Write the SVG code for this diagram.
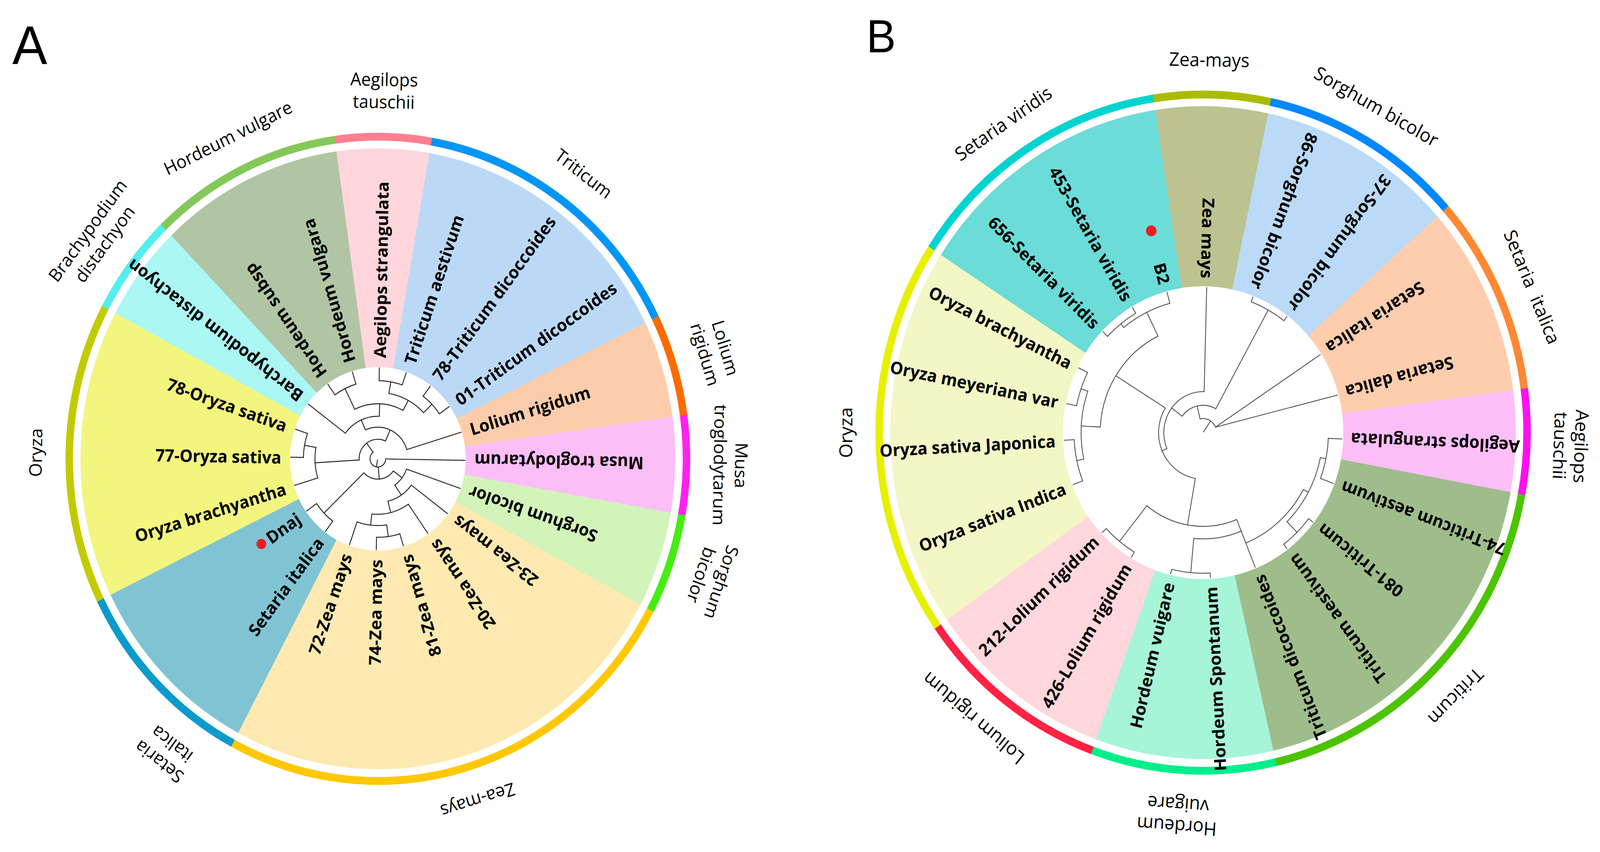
<svg xmlns="http://www.w3.org/2000/svg" width="4277" height="2182" viewBox="0 0 4277 2182" preserveAspectRatio="none">
<style>
svg{width:100vw;height:100vh;display:block}
text{font-family:'Open Sans','Noto Sans','DejaVu Sans',sans-serif;fill:#000}
.lb{font-weight:700;font-size:44px}
.gA{font-size:46px}
.gB{font-size:48px}
.ttl{font-family:'Liberation Sans',Arial,sans-serif}
.w{fill:none}
.t{fill:none;stroke:#262626;stroke-width:2.4;stroke-linecap:round}
.u{fill:none;stroke:#484848;stroke-width:2.1;stroke-linecap:round}
.dot{fill:#ee1c25}
</style>
<rect width="4277" height="2182" fill="#fff"/>
<text class="ttl" x="33" y="164" font-size="140">A</text>
<text class="ttl" x="2316" y="134" font-size="118">B</text>

<g id="panelA" transform="translate(1010,1175)">
 <g id="A-Musa">
  <circle class="w" r="515" stroke-width="560" stroke="#fdbef8" stroke-dasharray="163.6 99999" transform="rotate(-8)"/>
  <circle class="w" r="825" stroke-width="20" stroke="#ff22ee" stroke-dasharray="262.1 99999" transform="rotate(-8)"/>
  <text class="gA" transform="rotate(91)" text-anchor="middle"><tspan x="0" y="-955">Musa</tspan><tspan x="0" y="-898">troglodytarum</tspan></text>
  <text class="lb" transform="rotate(181)" x="-258" text-anchor="end" dominant-baseline="central">Musa troglodytarum</text>
 </g>
 <g id="A-Sorghum">
  <circle class="w" r="515" stroke-width="560" stroke="#d2f4b8" stroke-dasharray="163.6 99999" transform="rotate(10)"/>
  <circle class="w" r="825" stroke-width="20" stroke="#44ee11" stroke-dasharray="262.1 99999" transform="rotate(10)"/>
  <text class="gA" transform="rotate(109)" text-anchor="middle"><tspan x="0" y="-955">Sorghum</tspan><tspan x="0" y="-898">bicolor</tspan></text>
  <text class="lb" transform="rotate(199)" x="-258" text-anchor="end" dominant-baseline="central">Sorghum bicolor</text>
 </g>
 <g id="A-Zea">
  <circle class="w" r="515" stroke-width="560" stroke="#feeab0" stroke-dasharray="810.8 99999" transform="rotate(28)"/>
  <circle class="w" r="825" stroke-width="20" stroke="#ffc800" stroke-dasharray="1298.8 99999" transform="rotate(28)"/>
  <text class="gA" transform="rotate(163)" text-anchor="middle" x="0" y="-898">Zea-mays</text>
  <text class="lb" transform="rotate(217)" x="-258" text-anchor="end" dominant-baseline="central">23-Zea mays</text>
  <text class="lb" transform="rotate(235)" x="-258" text-anchor="end" dominant-baseline="central">20-Zea mays</text>
  <text class="lb" transform="rotate(253)" x="-258" text-anchor="end" dominant-baseline="central">81-Zea mays</text>
  <text class="lb" transform="rotate(271)" x="-258" text-anchor="end" dominant-baseline="central">74-Zea mays</text>
  <text class="lb" transform="rotate(289)" x="-258" text-anchor="end" dominant-baseline="central">72-Zea mays</text>
 </g>
 <g id="A-Setaria">
  <circle class="w" r="515" stroke-width="560" stroke="#80c4d4" stroke-dasharray="325.4 99999" transform="rotate(118)"/>
  <circle class="w" r="825" stroke-width="20" stroke="#0b9acc" stroke-dasharray="521.2 99999" transform="rotate(118)"/>
  <text class="gA" transform="rotate(217)" text-anchor="middle"><tspan x="0" y="-955">Setaria</tspan><tspan x="0" y="-898">italica</tspan></text>
  <text class="lb" transform="rotate(307)" x="-258" text-anchor="end" dominant-baseline="central">Setaria italica</text>
  <text class="lb" transform="rotate(325)" x="-258" text-anchor="end" dominant-baseline="central">Dnaj</text>
  <circle class="dot" cx="-311.3" cy="218" r="13"/>
 </g>
 <g id="A-Oryza">
  <circle class="w" r="515" stroke-width="560" stroke="#f2f67e" stroke-dasharray="487.2 99999" transform="rotate(154)"/>
  <circle class="w" r="825" stroke-width="20" stroke="#c2cb00" stroke-dasharray="780.4 99999" transform="rotate(154)"/>
  <text class="gA" transform="rotate(271)" text-anchor="middle" x="0" y="-898">Oryza</text>
  <text class="lb" transform="rotate(343)" x="-258" text-anchor="end" dominant-baseline="central">Oryza brachyantha</text>
  <text class="lb" transform="rotate(1)" x="-258" text-anchor="end" dominant-baseline="central">77-Oryza sativa</text>
  <text class="lb" transform="rotate(19)" x="-258" text-anchor="end" dominant-baseline="central">78-Oryza sativa</text>
 </g>
 <g id="A-Brachypodium">
  <circle class="w" r="515" stroke-width="560" stroke="#abf7f4" stroke-dasharray="163.6 99999" transform="rotate(208)"/>
  <circle class="w" r="825" stroke-width="20" stroke="#55eeee" stroke-dasharray="262.1 99999" transform="rotate(208)"/>
  <text class="gA" transform="rotate(307)" text-anchor="middle"><tspan x="0" y="-955">Brachypodium</tspan><tspan x="0" y="-898">distachyon</tspan></text>
  <text class="lb" transform="rotate(217)" x="258" dominant-baseline="central">Barchypodium distachyon</text>
 </g>
 <g id="A-Hordeum">
  <circle class="w" r="515" stroke-width="560" stroke="#b1c5a4" stroke-dasharray="325.4 99999" transform="rotate(226)"/>
  <circle class="w" r="825" stroke-width="20" stroke="#84c85a" stroke-dasharray="521.2 99999" transform="rotate(226)"/>
  <text class="gA" transform="rotate(334)" text-anchor="middle" x="0" y="-898">Hordeum vulgare</text>
  <text class="lb" transform="rotate(235)" x="258" dominant-baseline="central">Hordeum subsp</text>
  <text class="lb" transform="rotate(253)" x="258" dominant-baseline="central">Hordeum vulgara</text>
 </g>
 <g id="A-Aegilops">
  <circle class="w" r="515" stroke-width="560" stroke="#ffd6db" stroke-dasharray="163.6 99999" transform="rotate(262)"/>
  <circle class="w" r="825" stroke-width="20" stroke="#ff7f90" stroke-dasharray="262.1 99999" transform="rotate(262)"/>
  <text class="gA" transform="rotate(1)" text-anchor="middle" x="0" y="-955">Aegilops</text>
  <text class="gA" transform="rotate(1)" text-anchor="middle" x="0" y="-898">tauschii</text>
  <text class="lb" transform="rotate(271)" x="258" dominant-baseline="central">Aegilops strangulata</text>
 </g>
 <g id="A-Triticum">
  <circle class="w" r="515" stroke-width="560" stroke="#bbd9f7" stroke-dasharray="487.2 99999" transform="rotate(280)"/>
  <circle class="w" r="825" stroke-width="20" stroke="#0096f5" stroke-dasharray="780.4 99999" transform="rotate(280)"/>
  <text class="gA" transform="rotate(37)" text-anchor="middle" x="0" y="-898">Triticum</text>
  <text class="lb" transform="rotate(289)" x="258" dominant-baseline="central">Triticum aestivum</text>
  <text class="lb" transform="rotate(307)" x="258" dominant-baseline="central">78-Triticum dicoccoides</text>
  <text class="lb" transform="rotate(325)" x="258" dominant-baseline="central">01-Triticum dicoccoides</text>
 </g>
 <g id="A-Lolium">
  <circle class="w" r="515" stroke-width="560" stroke="#fdcdab" stroke-dasharray="163.6 99999" transform="rotate(334)"/>
  <circle class="w" r="825" stroke-width="20" stroke="#ff6a00" stroke-dasharray="262.1 99999" transform="rotate(334)"/>
  <text class="gA" transform="rotate(73)" text-anchor="middle"><tspan x="0" y="-955">Lolium</tspan><tspan x="0" y="-898">rigidum</tspan></text>
  <text class="lb" transform="rotate(343)" x="258" dominant-baseline="central">Lolium rigidum</text>
 </g>
 <g id="A-tree-connectors">
  <line class="t" x1="3" x2="21" transform="rotate(101)"/>
  <circle class="t" r="21" stroke-dasharray="85.03 99999" transform="rotate(1)"/>
  <line class="t" x1="21" x2="233" transform="rotate(1)"/>
  <line class="t" x1="21" x2="52" transform="rotate(86)"/>
  <circle class="t" r="52" stroke-dasharray="89.85 99999" transform="rotate(37)"/>
  <line class="t" x1="52" x2="200" transform="rotate(136)"/>
  <circle class="t" r="200" stroke-dasharray="62.83 99999" transform="rotate(127)"/>
  <line class="t" x1="200" x2="233" transform="rotate(127)"/>
  <line class="t" x1="200" x2="233" transform="rotate(145)"/>
  <line class="t" x1="52" x2="81" transform="rotate(37)"/>
  <circle class="t" r="81" stroke-dasharray="52.31 99999" transform="rotate(19)"/>
  <line class="t" x1="81" x2="233" transform="rotate(19)"/>
  <line class="t" x1="81" x2="112" transform="rotate(56)"/>
  <circle class="t" r="112" stroke-dasharray="76.24 99999" transform="rotate(37)"/>
  <line class="t" x1="112" x2="233" transform="rotate(37)"/>
  <line class="t" x1="112" x2="142" transform="rotate(76)"/>
  <circle class="t" r="142" stroke-dasharray="102.85 99999" transform="rotate(55)"/>
  <line class="t" x1="142" x2="233" transform="rotate(55)"/>
  <line class="t" x1="142" x2="171" transform="rotate(96.5)"/>
  <circle class="t" r="171" stroke-dasharray="80.58 99999" transform="rotate(82)"/>
  <line class="t" x1="171" x2="233" transform="rotate(109)"/>
  <line class="t" x1="171" x2="201" transform="rotate(82)"/>
  <circle class="t" r="201" stroke-dasharray="63.15 99999" transform="rotate(73)"/>
  <line class="t" x1="201" x2="233" transform="rotate(73)"/>
  <line class="t" x1="201" x2="233" transform="rotate(91)"/>
  <line class="t" x1="21" x2="50" transform="rotate(233)"/>
  <circle class="t" r="50" stroke-dasharray="102.54 99999" transform="rotate(176.5)"/>
  <line class="t" x1="50" x2="168" transform="rotate(176.5)"/>
  <circle class="t" r="168" stroke-dasharray="79.17 99999" transform="rotate(163)"/>
  <line class="t" x1="168" x2="233" transform="rotate(163)"/>
  <line class="t" x1="168" x2="199" transform="rotate(190)"/>
  <circle class="t" r="199" stroke-dasharray="62.52 99999" transform="rotate(181)"/>
  <line class="t" x1="199" x2="233" transform="rotate(181)"/>
  <line class="t" x1="199" x2="233" transform="rotate(199)"/>
  <line class="t" x1="50" x2="81" transform="rotate(294)"/>
  <circle class="t" r="81" stroke-dasharray="137.13 99999" transform="rotate(246)"/>
  <line class="t" x1="81" x2="233" transform="rotate(343)"/>
  <line class="t" x1="81" x2="109" transform="rotate(246)"/>
  <circle class="t" r="109" stroke-dasharray="104.63 99999" transform="rotate(217)"/>
  <line class="t" x1="109" x2="233" transform="rotate(217)"/>
  <line class="t" x1="109" x2="141" transform="rotate(272)"/>
  <circle class="t" r="141" stroke-dasharray="134.12 99999" transform="rotate(244)"/>
  <line class="t" x1="141" x2="200" transform="rotate(244)"/>
  <circle class="t" r="200" stroke-dasharray="62.83 99999" transform="rotate(235)"/>
  <line class="t" x1="200" x2="233" transform="rotate(235)"/>
  <line class="t" x1="200" x2="233" transform="rotate(253)"/>
  <line class="t" x1="141" x2="170" transform="rotate(298.5)"/>
  <circle class="t" r="170" stroke-dasharray="106.81 99999" transform="rotate(280)"/>
  <line class="t" x1="170" x2="200" transform="rotate(280)"/>
  <circle class="t" r="200" stroke-dasharray="62.83 99999" transform="rotate(271)"/>
  <line class="t" x1="200" x2="233" transform="rotate(271)"/>
  <line class="t" x1="200" x2="233" transform="rotate(289)"/>
  <line class="t" x1="170" x2="201" transform="rotate(316)"/>
  <circle class="t" r="201" stroke-dasharray="63.15 99999" transform="rotate(307)"/>
  <line class="t" x1="201" x2="233" transform="rotate(307)"/>
  <line class="t" x1="201" x2="233" transform="rotate(325)"/>
 </g>
</g>

<g id="panelB" transform="translate(3216,1108)">
 <g id="B-Zea">
  <circle class="w" r="605.5" stroke-width="461" stroke="#bcc290" stroke-dasharray="224.0 99999" transform="rotate(261)"/>
  <circle class="w" r="866" stroke-width="20" stroke="#aabb00" stroke-dasharray="320.4 99999" transform="rotate(261)"/>
  <text class="gB" transform="rotate(1)" text-anchor="middle" x="0" y="-938">Zea-mays</text>
  <text class="lb" transform="rotate(91.5)" x="-395" text-anchor="end" dominant-baseline="central">Zea mays</text>
 </g>
 <g id="B-Sorghum">
  <circle class="w" r="605.5" stroke-width="461" stroke="#badaf8" stroke-dasharray="387.9 99999" transform="rotate(282)"/>
  <circle class="w" r="866" stroke-width="20" stroke="#0088ff" stroke-dasharray="554.7 99999" transform="rotate(282)"/>
  <text class="gB" transform="rotate(29)" text-anchor="middle" x="0" y="-938">Sorghum bicolor</text>
  <text class="lb" transform="rotate(111)" x="-395" text-anchor="end" dominant-baseline="central">86-Sorghum bicolor</text>
  <text class="lb" transform="rotate(127)" x="-395" text-anchor="end" dominant-baseline="central">37-Sorghum bicolor</text>
 </g>
 <g id="B-Setaria-italica">
  <circle class="w" r="605.5" stroke-width="461" stroke="#fecdad" stroke-dasharray="361.4 99999" transform="rotate(318.5)"/>
  <circle class="w" r="866" stroke-width="20" stroke="#ff8833" stroke-dasharray="516.9 99999" transform="rotate(318.5)"/>
  <text class="gB" transform="rotate(67)" text-anchor="middle" x="0" y="-938" word-spacing="14">Setaria italica</text>
  <text class="lb" transform="rotate(147.5)" x="-395" text-anchor="end" dominant-baseline="central">Setaria italica</text>
  <text class="lb" transform="rotate(165)" x="-395" text-anchor="end" dominant-baseline="central">Setaria dalica</text>
 </g>
 <g id="B-Aegilops">
  <circle class="w" r="605.5" stroke-width="461" stroke="#febef7" stroke-dasharray="192.3 99999" transform="rotate(352.5)"/>
  <circle class="w" r="866" stroke-width="20" stroke="#ff11ee" stroke-dasharray="275.1 99999" transform="rotate(352.5)"/>
  <text class="gB" transform="rotate(92)" text-anchor="middle" x="0" y="-994">Aegilops</text>
  <text class="gB" transform="rotate(92)" text-anchor="middle" x="0" y="-938">tauschii</text>
  <text class="lb" transform="rotate(182.5)" x="-395" text-anchor="end" dominant-baseline="central">Aegilops strangulata</text>
 </g>
 <g id="B-Triticum">
  <circle class="w" r="605.5" stroke-width="461" stroke="#9fbd8b" stroke-dasharray="704.9 99999" transform="rotate(10.5)"/>
  <circle class="w" r="866" stroke-width="20" stroke="#4cc400" stroke-dasharray="1008.1 99999" transform="rotate(10.5)"/>
  <text class="gB" transform="rotate(135)" text-anchor="middle" x="0" y="-938">Triticum</text>
  <text class="lb" transform="rotate(200.5)" x="-395" text-anchor="end" dominant-baseline="central">74-Triticum aestivum</text>
  <text class="lb" transform="rotate(218)" x="-395" text-anchor="end" dominant-baseline="central">081-Triticum</text>
  <text class="lb" transform="rotate(233)" x="-395" text-anchor="end" dominant-baseline="central">Triticum aestivum</text>
  <text class="lb" transform="rotate(248)" x="-395" text-anchor="end" dominant-baseline="central">Triticum dicoccoides</text>
 </g>
 <g id="B-Hordeum">
  <circle class="w" r="605.5" stroke-width="461" stroke="#a6f5d8" stroke-dasharray="350.9 99999" transform="rotate(77)"/>
  <circle class="w" r="866" stroke-width="20" stroke="#00ee8c" stroke-dasharray="501.8 99999" transform="rotate(77)"/>
  <text class="gB" transform="rotate(184)" text-anchor="middle" x="0" y="-994">Hordeum</text>
  <text class="gB" transform="rotate(184)" text-anchor="middle" x="0" y="-938">vuigare</text>
  <text class="lb" transform="rotate(267)" x="-395" text-anchor="end" dominant-baseline="central">Hordeum Spontanum</text>
  <text class="lb" transform="rotate(283.5)" x="-395" text-anchor="end" dominant-baseline="central">Hordeum vuigare</text>
 </g>
 <g id="B-Lolium">
  <circle class="w" r="605.5" stroke-width="461" stroke="#ffd7dc" stroke-dasharray="372.0 99999" transform="rotate(110)"/>
  <circle class="w" r="866" stroke-width="20" stroke="#ff2244" stroke-dasharray="532.0 99999" transform="rotate(110)"/>
  <text class="gB" transform="rotate(220)" text-anchor="middle" x="0" y="-938">Lolium rigidum</text>
  <text class="lb" transform="rotate(301)" x="-395" text-anchor="end" dominant-baseline="central">426-Lolium rigidum</text>
  <text class="lb" transform="rotate(316.5)" x="-395" text-anchor="end" dominant-baseline="central">212-Lolium rigidum</text>
 </g>
 <g id="B-Oryza">
  <circle class="w" r="605.5" stroke-width="461" stroke="#f3f6c5" stroke-dasharray="720.7 99999" transform="rotate(145)"/>
  <circle class="w" r="866" stroke-width="20" stroke="#e8f000" stroke-dasharray="1030.8 99999" transform="rotate(145)"/>
  <text class="gB" transform="rotate(270)" text-anchor="middle" x="0" y="-938">Oryza</text>
  <text class="lb" transform="rotate(339)" x="-395" text-anchor="end" dominant-baseline="central">Oryza sativa Indica</text>
  <text class="lb" transform="rotate(357)" x="-395" text-anchor="end" dominant-baseline="central">Oryza sativa Japonica</text>
  <text class="lb" transform="rotate(11.5)" x="-395" text-anchor="end" dominant-baseline="central">Oryza meyeriana var</text>
  <text class="lb" transform="rotate(26.5)" x="-395" text-anchor="end" dominant-baseline="central">Oryza brachyantha</text>
 </g>
 <g id="B-Setaria-viridis">
  <circle class="w" r="605.5" stroke-width="461" stroke="#6bdcd7" stroke-dasharray="509.4 99999" transform="rotate(213)"/>
  <circle class="w" r="866" stroke-width="20" stroke="#00d4d0" stroke-dasharray="728.5 99999" transform="rotate(213)"/>
  <text class="gB" transform="rotate(326)" text-anchor="middle" x="0" y="-938">Setaria viridis</text>
  <text class="lb" transform="rotate(44)" x="-395" text-anchor="end" dominant-baseline="central">656-Setaria viridis</text>
  <text class="lb" transform="rotate(59.5)" x="-395" text-anchor="end" dominant-baseline="central">453-Setaria viridis</text>
  <text class="lb" transform="rotate(75)" x="-395" text-anchor="end" dominant-baseline="central">B2</text>
  <circle class="dot" cx="-138.5" cy="-516.8" r="14"/>
 </g>
 <g id="B-tree-connectors">
  <line class="u" x1="2" x2="36" transform="rotate(304)"/>
  <circle class="u" r="36" stroke-dasharray="50.27 99999" transform="rotate(257)"/>
  <line class="u" x1="33.1" y1="-14.1" x2="313.7" y2="-199.9"/>
  <line class="u" x1="33.1" y1="-14.1" x2="359.3" y2="-96.3"/>
  <line class="u" x1="36" x2="70" transform="rotate(257)"/>
  <circle class="u" r="70" stroke-dasharray="100.18 99999" transform="rotate(217)"/>
  <line class="u" x1="70" x2="359" transform="rotate(299)"/>
  <circle class="u" r="359" stroke-dasharray="100.25 99999" transform="rotate(291)"/>
  <line class="u" x1="359" x2="372" transform="rotate(291)"/>
  <line class="u" x1="359" x2="372" transform="rotate(307)"/>
  <line class="u" x1="70" x2="105" transform="rotate(217)"/>
  <circle class="u" r="105" stroke-dasharray="209.83 99999" transform="rotate(157)"/>
  <line class="u" x1="105" x2="372" transform="rotate(271.5)"/>
  <line class="u" x1="105" x2="119" transform="rotate(157)"/>
  <circle class="u" r="119" stroke-dasharray="232.62 99999" transform="rotate(100)"/>
  <line class="u" x1="119" x2="275" transform="rotate(212)"/>
  <circle class="u" r="275" stroke-dasharray="292.78 99999" transform="rotate(183)"/>
  <line class="u" x1="275" x2="326" transform="rotate(183)"/>
  <circle class="u" r="326" stroke-dasharray="176.38 99999" transform="rotate(168)"/>
  <line class="u" x1="326" x2="345" transform="rotate(168)"/>
  <circle class="u" r="345" stroke-dasharray="108.38 99999" transform="rotate(159)"/>
  <line class="u" x1="345" x2="372" transform="rotate(159)"/>
  <line class="u" x1="345" x2="372" transform="rotate(177)"/>
  <line class="u" x1="326" x2="345" transform="rotate(199)"/>
  <circle class="u" r="345" stroke-dasharray="90.32 99999" transform="rotate(191.5)"/>
  <line class="u" x1="345" x2="372" transform="rotate(191.5)"/>
  <line class="u" x1="345" x2="372" transform="rotate(206.5)"/>
  <line class="u" x1="275" x2="343" transform="rotate(244)"/>
  <circle class="u" r="343" stroke-dasharray="139.19 99999" transform="rotate(231.75)"/>
  <line class="u" x1="343" x2="372" transform="rotate(255)"/>
  <line class="u" x1="343" x2="355" transform="rotate(231.75)"/>
  <circle class="u" r="355" stroke-dasharray="96.04 99999" transform="rotate(224)"/>
  <line class="u" x1="355" x2="372" transform="rotate(224)"/>
  <line class="u" x1="355" x2="372" transform="rotate(239.5)"/>
  <line class="u" x1="119" x2="240" transform="rotate(100)"/>
  <circle class="u" r="240" stroke-dasharray="254.47 99999" transform="rotate(68)"/>
  <line class="u" x1="240" x2="357" transform="rotate(128.75)"/>
  <circle class="u" r="357" stroke-dasharray="96.58 99999" transform="rotate(121)"/>
  <line class="u" x1="357" x2="372" transform="rotate(121)"/>
  <line class="u" x1="357" x2="372" transform="rotate(136.5)"/>
  <line class="u" x1="240" x2="372" transform="rotate(68)"/>
  <circle class="u" r="272" stroke-dasharray="129.36 99999" transform="rotate(68)"/>
  <line class="u" x1="272" x2="360" transform="rotate(95.25)"/>
  <circle class="u" r="360" stroke-dasharray="103.67 99999" transform="rotate(87)"/>
  <line class="u" x1="360" x2="372" transform="rotate(87)"/>
  <line class="u" x1="360" x2="372" transform="rotate(103.5)"/>
  <circle class="u" r="305" stroke-dasharray="210.27 99999" transform="rotate(28.5)"/>
  <line class="u" x1="305" x2="320" transform="rotate(28.5)"/>
  <circle class="u" r="320" stroke-dasharray="189.89 99999" transform="rotate(11.5)"/>
  <line class="u" x1="320" x2="358" transform="rotate(45.5)"/>
  <circle class="u" r="358" stroke-dasharray="93.72 99999" transform="rotate(38)"/>
  <line class="u" x1="358" x2="372" transform="rotate(38)"/>
  <line class="u" x1="358" x2="372" transform="rotate(53)"/>
  <line class="u" x1="320" x2="335" transform="rotate(11.5)"/>
  <circle class="u" r="335" stroke-dasharray="105.24 99999" transform="rotate(2.5)"/>
  <line class="u" x1="335" x2="372" transform="rotate(2.5)"/>
  <line class="u" x1="335" x2="372" transform="rotate(20.5)"/>
 </g>
</g>
</svg>
